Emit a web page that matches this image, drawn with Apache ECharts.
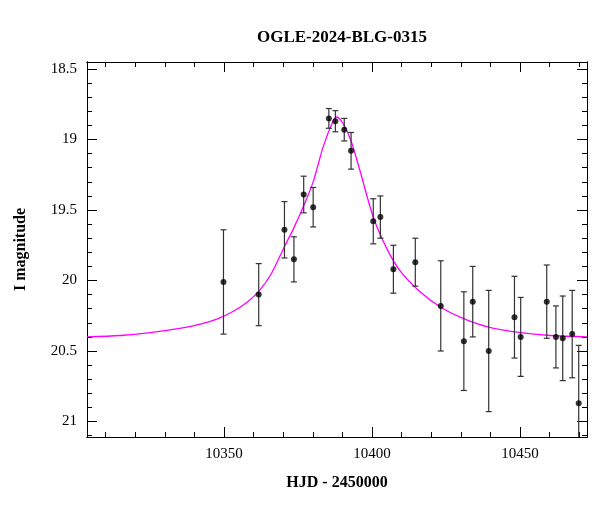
<!DOCTYPE html>
<html><head><meta charset="utf-8">
<script src="https://cdn.jsdelivr.net/npm/echarts@6/dist/echarts.min.js"></script>
<style>html,body{margin:0;padding:0;background:#fff}#c{width:600px;height:512px}</style>
</head><body><div id="c"></div>
<script>
const hjd = [10349.8,10361.7,10370.4,10373.6,10376.9,10380.1,10385.4,10387.6,10390.6,10392.9,10400.4,10402.8,10407.2,10414.6,10423.2,10431.0,10434.0,10439.4,10448.1,10450.2,10459.0,10462.1,10464.4,10467.6,10469.8];
const mag = [20.01,20.10,19.64,19.85,19.39,19.48,18.85,18.87,18.93,19.08,19.58,19.55,19.92,19.87,20.18,20.43,20.15,20.50,20.26,20.40,20.15,20.40,20.41,20.38,20.87];
const err = [0.37,0.22,0.20,0.16,0.13,0.14,0.07,0.075,0.08,0.13,0.16,0.15,0.17,0.17,0.32,0.35,0.25,0.43,0.29,0.28,0.26,0.22,0.30,0.31,0.41];
const modelX = [10303.7,10315,10325,10335,10342,10348,10353,10358,10362,10366,10370.4,10373.5,10376.9,10380.1,10383.5,10386.8,10388.1,10390.3,10392.9,10395.9,10400.4,10404.9,10409.4,10416.2,10423.2,10430.9,10439.4,10450.2,10460,10472.6];
const modelY = [20.40,20.39,20.37,20.34,20.31,20.27,20.22,20.15,20.07,19.95,19.76,19.63,19.47,19.30,19.05,18.87,18.84,18.89,19.01,19.22,19.55,19.77,19.93,20.08,20.19,20.27,20.33,20.37,20.39,20.40];
const xMajor = [10350,10400,10450];
const xMinor = []; for (let v=10310; v<=10470; v+=10) xMinor.push(v);
const yMajor = [18.5,19,19.5,20,20.5,21];
const yMinor = []; for (let i=185; i<=211; i++) yMinor.push(i/10);

const F = '"Liberation Serif","DejaVu Serif",serif';
const XMIN=10303.7, XMAX=10472.6, YMIN=18.45, YMAX=21.11;
const line = {show:true, lineStyle:{color:'#000', width:1}};
function xAx(pos, vals, len, labels){
  return {type:'value', min:XMIN, max:XMAX, position:pos, axisLine:line, splitLine:{show:false},
    axisTick:{show:true, inside:true, length:len, customValues:vals, lineStyle:{color:'#000'}},
    axisLabel:{show:labels, customValues:xMajor, fontFamily:F, fontSize:15, color:'#000', margin:10, formatter:v=>String(v)}};
}
function yAx(pos, vals, len, labels){
  return {type:'value', min:YMIN, max:YMAX, inverse:true, position:pos, axisLine:line, splitLine:{show:false},
    axisTick:{show:true, inside:true, length:len, customValues:vals, lineStyle:{color:'#000'}},
    axisLabel:{show:labels, customValues:yMajor, fontFamily:F, fontSize:15, color:'#000', margin:10, formatter:v=>String(v)}};
}
const xs = [xAx('bottom',xMajor,10,true), xAx('bottom',xMinor,5,false), xAx('top',xMajor,10,false), xAx('top',xMinor,5,false)];
xs[0].name='HJD - 2450000'; xs[0].nameLocation='middle'; xs[0].nameGap=38;
xs[0].nameTextStyle={fontFamily:F,fontSize:16,color:'#000',fontWeight:'bold'};
const ys = [yAx('left',yMajor,10,true), yAx('left',yMinor,5,false), yAx('right',yMajor,10,false), yAx('right',yMinor,5,false)];
ys[0].name='I magnitude'; ys[0].nameLocation='middle'; ys[0].nameGap=58;
ys[0].nameTextStyle={fontFamily:F,fontSize:16,color:'#000',fontWeight:'bold'};

const pts = hjd.map((x,i)=>[x,mag[i]]);
const ebData = hjd.map((x,i)=>[x,mag[i]-err[i],mag[i]+err[i]]);
const chart = echarts.init(document.getElementById('c'));
chart.setOption({
  animation:false,
  title:{text:'OGLE-2024-BLG-0315', left:337, top:24, textAlign:'center',
    textStyle:{fontFamily:F,fontSize:17,fontWeight:'bold',color:'#000'}},
  grid:{left:87, right:13, top:62, bottom:75},
  xAxis:xs, yAxis:ys,
  series:[
    {type:'line', data:modelX.map((x,i)=>[x,modelY[i]]), smooth:0.3, showSymbol:false, symbol:'none',
      lineStyle:{color:'#ff00ff', width:1.3}, z:1},
    {type:'custom', data:ebData, z:2, clip:true,
      renderItem:(params, api)=>{
        const x=api.value(0);
        const a=api.coord([x,api.value(1)]), b=api.coord([x,api.value(2)]);
        const s={stroke:'#333', lineWidth:1.2};
        return {type:'group', children:[
          {type:'line', shape:{x1:a[0],y1:a[1],x2:b[0],y2:b[1]}, style:s},
          {type:'line', shape:{x1:a[0]-3,y1:a[1],x2:a[0]+3,y2:a[1]}, style:s},
          {type:'line', shape:{x1:b[0]-3,y1:b[1],x2:b[0]+3,y2:b[1]}, style:s}
        ]};
      }},
    {type:'scatter', data:pts, symbolSize:6, itemStyle:{color:'#000'}, z:3}
  ]
});
</script></body></html>
